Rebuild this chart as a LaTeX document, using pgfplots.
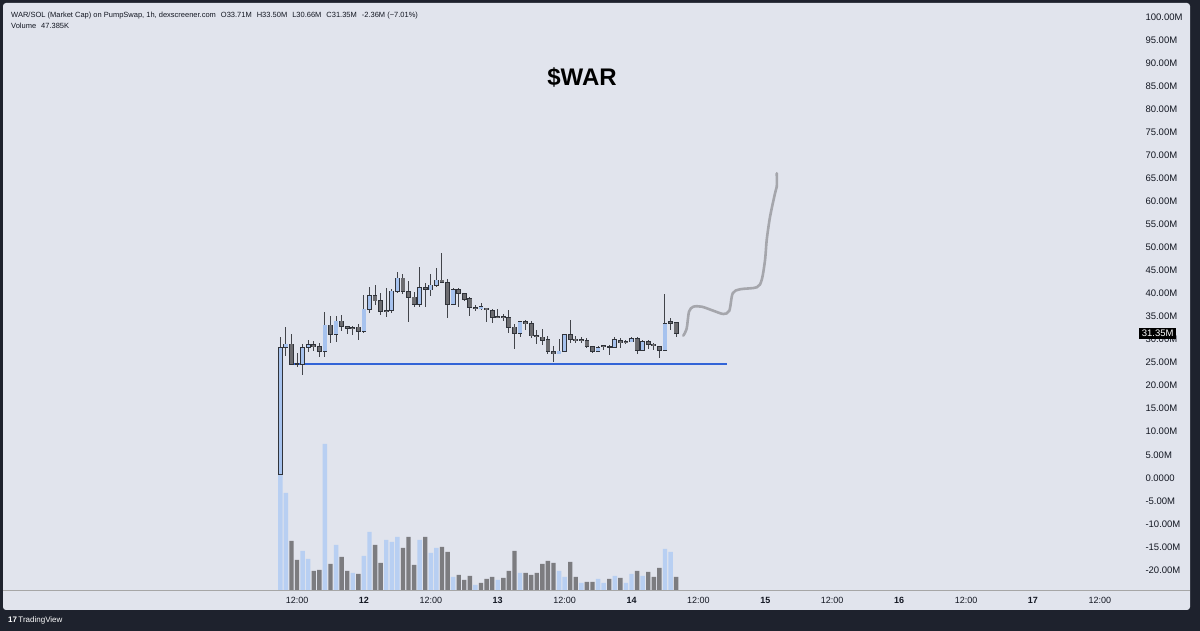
\documentclass[border=0pt]{standalone}
\usepackage{pgfplots}
\pgfplotsset{compat=1.18}
\usepackage{pgfplotstable}
\usepackage{fontspec}
\setmainfont{Liberation Sans}
\definecolor{frame}{RGB}{30,34,45}
\definecolor{panel}{RGB}{225,228,237}
\definecolor{upfill}{RGB}{166,194,238}
\definecolor{dnfill}{RGB}{108,108,112}
\definecolor{outline}{RGB}{48,51,58}
\definecolor{wick}{RGB}{66,68,74}
\definecolor{volup}{RGB}{184,207,242}
\definecolor{voldn}{RGB}{124,124,128}
\definecolor{support}{RGB}{50,100,215}
\definecolor{pathgray}{RGB}{165,166,172}
\definecolor{txt}{RGB}{19,23,34}

% t = hours since 11th 00:00, o h l c in millions, v = volume (px units), vu = 1 for up-coloured volume
\pgfplotstableread{
t o h l c v vu
9 0.8 30.6 0.7 28.2 116 1
10 28.3 32.8 26.4 29.0 97 1
11 29.0 31.2 24.6 24.7 49 0
12 24.7 27.0 24.0 24.8 30 0
13 24.6 29.0 22.3 28.2 39 1
14 28.3 29.8 27.4 28.9 31 1
15 28.9 29.7 27.6 28.5 19 0
16 28.5 29.3 26.3 27.5 20 0
17 27.5 36.0 26.2 33.1 146 1
18 33.1 35.1 29.3 31.2 26 0
19 31.2 35.1 29.4 34.0 45 1
20 34.0 35.3 31.9 32.8 33 0
21 32.8 33.0 31.1 32.5 19 0
22 32.6 33.0 31.0 32.4 17 1
23 32.7 33.4 29.9 31.7 16 0
24 31.7 39.6 31.5 36.6 34 1
25 36.6 41.3 35.8 39.5 58 1
26 39.5 41.8 37.4 38.4 45 0
27 38.4 40.2 35.3 36.2 27 0
28 36.3 41.1 35.0 36.1 50 1
29 36.3 40.9 35.8 40.5 48 1
30 40.5 44.6 40.0 43.3 53 1
31 43.3 44.3 39.8 40.5 42 0
32 40.4 42.7 33.9 39.2 53 0
33 39.2 40.4 37.0 37.7 25 0
34 37.7 45.7 37.1 41.3 50 1
35 41.3 42.3 37.1 40.9 53 0
36 40.8 44.2 39.5 41.8 37 1
37 41.8 45.5 41.3 42.9 42 1
38 42.9 48.7 42.3 42.5 43 0
39 42.4 43.1 34.6 37.7 38 0
40 37.7 41.1 37.5 40.9 13 1
41 40.9 41.1 37.1 40.0 15 0
42 39.9 40.2 38.3 38.8 10 0
43 38.8 39.3 35.2 37.0 14 0
44 37.0 37.4 36.3 36.8 5 1
45 36.7 38.0 36.4 37.1 7 0
46 36.8 36.9 33.9 36.5 11 0
47 36.3 36.6 33.6 34.8 13 0
48 35.0 36.6 34.6 34.8 10 1
49 34.9 35.5 34.0 34.7 12 0
50 34.8 36.4 31.4 32.7 19 0
51 32.7 33.4 27.9 31.4 39 0
52 31.4 34.1 30.6 33.8 17 1
53 33.8 34.2 32.0 33.5 17 0
54 33.4 34.0 30.3 30.8 15 0
55 30.9 32.1 29.0 30.6 17 0
56 30.5 32.2 28.9 29.9 26 0
57 29.9 30.8 26.9 27.4 29 0
58 27.4 28.5 25.2 26.9 27 0
59 26.9 30.2 26.8 27.5 19 1
60 27.4 31.3 27.2 31.1 13 1
61 31.0 34.2 29.3 30.1 28 0
62 30.1 30.7 29.3 29.9 13 0
63 30.0 30.6 29.3 29.8 7 1
64 29.8 30.3 28.2 28.5 8 0
65 28.5 28.6 27.0 27.4 8 0
66 27.4 28.5 27.2 28.3 11 1
67 28.6 28.7 27.7 28.4 7 1
68 28.5 28.8 26.6 28.4 11 0
69 28.3 30.5 28.1 29.9 14 1
70 29.8 30.3 28.2 29.3 12 0
71 29.5 29.8 29.0 29.3 7 1
72 29.5 30.5 29.4 30.2 16 1
73 30.2 30.5 26.9 27.7 19 0
74 27.7 29.9 27.6 29.5 14 1
75 29.5 29.9 28.0 29.0 18 0
76 29.0 29.3 27.7 28.7 13 0
77 28.5 28.6 26.1 27.6 22 0
78 27.6 39.8 27.5 33.5 41 1
79 33.9 34.6 32.0 33.6 38 1
80 33.7 33.7 30.66 31.35 13 0
}\candles

\pgfplotsset{
  pane/.style={scale only axis,
    width=1117pt, height=587pt, xmin=-40.74, xmax=159.62},
}

\begin{document}
\begin{tikzpicture}
\useasboundingbox (0,0) rectangle (1200pt,631pt);
\fill[frame] (0,0) rectangle (1200pt,631pt);
\fill[panel, rounded corners=3pt] (3pt,21pt) rectangle (1190pt,628pt);
\draw[gray!70, line width=0.8pt] (3pt,41pt) -- (1190pt,41pt);

% volume overlay, own scale
\begin{axis}[pane, name=vol, at={(3pt,41pt)}, anchor=south west,
  ymin=0, ymax=587, hide axis,
  ybar, bar width=4.4pt, bar shift=0pt]
\addplot[fill=volup, draw=none] table[x=t, y expr={\thisrow{vu}==1 ? \thisrow{v} : nan}] {\candles};
\addplot[fill=voldn, draw=none] table[x=t, y expr={\thisrow{vu}==0 ? \thisrow{v} : nan}] {\candles};
\end{axis}

\begin{axis}[pane, at={(vol.south west)}, anchor=south west,
  ymin=-24.35, ymax=103.04,
  axis line style={draw=none}, major tick length=0pt,
  ytick={-20,-15,...,100}, yticklabel pos=right,
  yticklabels={-20.00M,-15.00M,-10.00M,-5.00M,0.0000,5.00M,10.00M,15.00M,20.00M,25.00M,30.00M,35.00M,40.00M,45.00M,50.00M,55.00M,60.00M,65.00M,70.00M,75.00M,80.00M,85.00M,90.00M,95.00M,100.00M},
  yticklabel style={anchor=west, xshift=22pt, font=\fontsize{9.5}{10}\selectfont, text=txt},
  xtick={12,24,...,156},
  xticklabels={12:00,\textbf{12},12:00,\textbf{13},12:00,\textbf{14},12:00,\textbf{15},12:00,\textbf{16},12:00,\textbf{17},12:00},
  xticklabel style={anchor=center, yshift=-10pt, font=\fontsize{9}{10}\selectfont, text=txt},
]
% support line
\addplot[support, line width=1.2pt] coordinates {(10.8,24.7) (89.1,24.7)};
% wicks
\addplot[draw=none, mark=none,
  error bars/.cd, y dir=both, y explicit, error mark=none,
  error bar style={line width=1pt, draw=wick}]
  table[x=t, y expr={(\thisrow{h}+\thisrow{l})/2}, y error expr={(\thisrow{h}-\thisrow{l})/2}] {\candles};
% body outlines
\addplot[draw=none, mark=none,
  error bars/.cd, y dir=both, y explicit, error mark=none,
  error bar style={line width=4.8pt, draw=outline}]
  table[x=t, y expr={(\thisrow{o}+\thisrow{c})/2}, y error expr={abs(\thisrow{c}-\thisrow{o})/2+0.12}] {\candles};
% body fills, up and down
\addplot[draw=none, mark=none,
  error bars/.cd, y dir=both, y explicit, error mark=none,
  error bar style={line width=3.3pt, draw=upfill}]
  table[x=t, y expr={\thisrow{c}>=\thisrow{o} ? (\thisrow{o}+\thisrow{c})/2 : nan},
        y error expr={max(abs(\thisrow{c}-\thisrow{o})/2-0.05,0)}] {\candles};
\addplot[draw=none, mark=none,
  error bars/.cd, y dir=both, y explicit, error mark=none,
  error bar style={line width=3.3pt, draw=dnfill}]
  table[x=t, y expr={\thisrow{c}<\thisrow{o} ? (\thisrow{o}+\thisrow{c})/2 : nan},
        y error expr={max(abs(\thisrow{c}-\thisrow{o})/2-0.05,0)}] {\candles};
% hand-drawn projection
\addplot[pathgray, line width=2.6pt, smooth, tension=0.5, line cap=round] coordinates {
  (81.29,30.84) (81.90,32.44) (82.31,36.05) (83.09,37.13) (84.59,37.13)
  (86.67,36.26) (88.47,35.55) (89.54,36.26) (90.15,40.04) (91.46,40.91)
  (94.46,41.34) (95.35,42.93) (95.95,47.27) (96.25,51.61) (96.85,56.66)
  (97.74,61.74) (98.05,63.17) (98.05,66.08)};
\coordinate (lastprice) at (axis cs:159.62,31.35);
\end{axis}

% last price tag (outside the clipped plot area)
\node[fill=black, text=white, anchor=west, inner xsep=2.6pt, inner ysep=2pt,
  font=\fontsize{9.5}{10}\selectfont] at ([xshift=19pt]lastprice) {31.35M};

\node[anchor=center, font=\fontsize{24}{26}\selectfont\bfseries, text=black] at (582pt,554pt) {\$WAR};
\node[anchor=west, inner sep=0pt, font=\fontsize{7.5}{9}\selectfont, text=txt] at (11pt,615.5pt)
  {WAR/SOL (Market Cap) on PumpSwap, 1h, dexscreener.com\hspace{5pt}O33.71M\hspace{5pt}H33.50M\hspace{5pt}L30.66M\hspace{5pt}C31.35M\hspace{5pt}-2.36M (−7.01\%)};
\node[anchor=west, inner sep=0pt, font=\fontsize{7.5}{9}\selectfont, text=txt] at (11pt,605.5pt)
  {Volume\hspace{5pt}47.385K};
\node[anchor=west, inner sep=0pt, font=\fontsize{8}{9}\selectfont, text=white] at (8pt,11pt)
  {\textbf{17}\,TradingView};
\end{tikzpicture}
\end{document}
